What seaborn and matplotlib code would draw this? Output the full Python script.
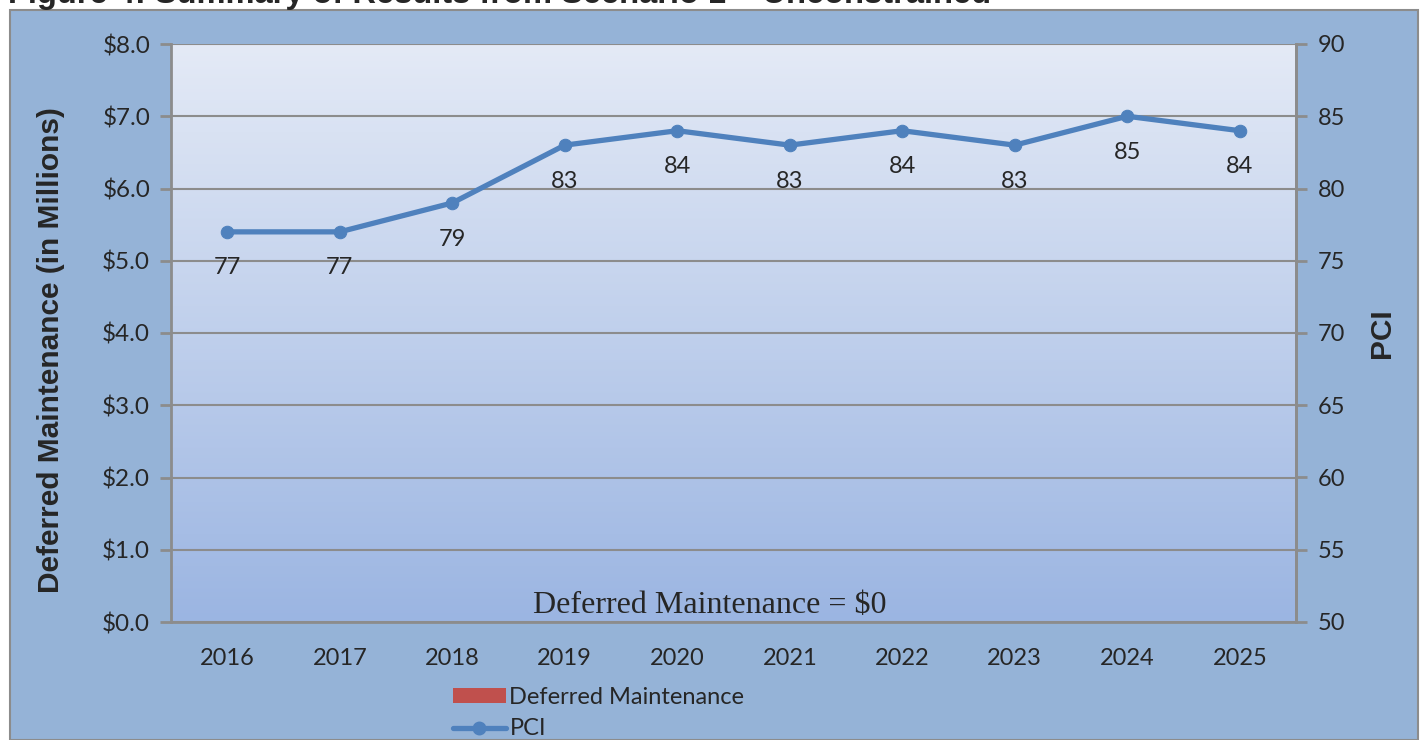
import numpy as np
import pandas as pd
import matplotlib
matplotlib.use("Agg")
import matplotlib.pyplot as plt
import seaborn as sns
from matplotlib.patches import Patch, Rectangle
from matplotlib.lines import Line2D
from matplotlib.colors import LinearSegmentedColormap

# Data
years = ["2016", "2017", "2018", "2019", "2020", "2021", "2022", "2023", "2024", "2025"]
deferred_maintenance = [0, 0, 0, 0, 0, 0, 0, 0, 0, 0]   # $ millions
pci = [77, 77, 79, 83, 84, 83, 84, 83, 85, 84]
left_ticks = [0, 1, 2, 3, 4, 5, 6, 7, 8]
right_ticks = [50, 55, 60, 65, 70, 75, 80, 85, 90]

df = pd.DataFrame({"year": years, "dm": deferred_maintenance, "pci": pci})
df["pos"] = np.arange(len(years))

sns.set_theme(style="white")
TICK_FONT = "Lato"
plt.rcParams["font.family"] = ["Lato", "DejaVu Sans"]

W, H = 1423, 740
fig = plt.figure(figsize=(W / 100, H / 100), dpi=100)
fig.patch.set_facecolor("white")

# Outer chart panel
panel = Rectangle((10 / W, 0), 1408 / W, (H - 10) / H, transform=fig.transFigure,
                  facecolor="#95B3D7", edgecolor="#8C8C8C", linewidth=1.5, zorder=0)
fig.patches.append(panel)

# Caption (partly above the page edge)
fig.text(8 / W, 1 - 3 / H, "Figure 4: Summary of Results from Scenario 1 \u2013 Unconstrained",
         family="Liberation Sans", weight="bold", fontsize=23.5, va="baseline", ha="left")

ax = fig.add_axes([171 / W, 1 - 622 / H, (1296 - 171) / W, (622 - 44) / H])
ax.set_zorder(1)

# Gradient plot background
grad = LinearSegmentedColormap.from_list("bg", ["#E4EAF6", "#9BB5E2"])
ax.imshow(np.linspace(0, 1, 256).reshape(-1, 1), cmap=grad, aspect="auto",
          extent=(-0.5, 9.5, 0, 8), origin="upper", zorder=0)

# Deferred maintenance bars (all zero)
sns.barplot(data=df, x="pos", y="dm", color="#C0504D", ax=ax, width=0.6,
            native_scale=True, zorder=2)

ax.set_xlim(-0.5, 9.5)
ax.set_ylim(0, 8)
ax.set_yticks(left_ticks)
ax.set_yticklabels([f"${v:.1f}" for v in left_ticks], fontsize=17.5, family=TICK_FONT)
ax.set_xticks(df["pos"])
ax.set_xticklabels(years, fontsize=17, family=TICK_FONT)
ax.set_xticks(np.arange(-0.5, 10, 1), minor=True)
ax.tick_params(axis="x", which="major", length=0, pad=19)
ax.tick_params(axis="x", which="minor", length=8, width=2, color="#8C8C8C", direction="out")
ax.tick_params(axis="y", length=8, width=2, color="#8C8C8C", direction="out", pad=7)
ax.set_xlabel("")
ax.set_ylabel("Deferred Maintenance (in Millions)", family="Liberation Sans",
              weight="bold", fontsize=21.5)
ax.yaxis.set_label_coords(-106 / 1125, 0.5 - 17 / 578)
ax.grid(axis="y", color="#8C8C8C", linewidth=1.5, zorder=1)
ax.set_axisbelow(False)
ax.spines["top"].set_visible(False)
for side in ["left", "bottom", "right"]:
    ax.spines[side].set_color("#8C8C8C")
    ax.spines[side].set_linewidth(2)

ax.text(4.29, 0.12, "Deferred Maintenance = $0", family="Liberation Serif",
        fontsize=23, ha="center", va="baseline", zorder=5)

# PCI line on secondary axis
ax2 = ax.twinx()
sns.lineplot(data=df, x="pos", y="pci", ax=ax2, color="#4F81BD", linewidth=3.8,
             marker="o", markersize=9, markeredgecolor="#4F81BD", zorder=4)
ax2.set_ylim(50, 90)
ax2.set_xlim(-0.5, 9.5)
ax2.set_yticks(right_ticks)
ax2.set_yticklabels([str(v) for v in right_ticks], fontsize=17, family=TICK_FONT)
ax2.tick_params(axis="y", length=8, width=2, color="#8C8C8C", direction="out", pad=7.5)
ax2.set_ylabel("PCI", family="Liberation Sans", weight="bold", fontsize=21.5)
ax2.yaxis.set_label_coords(1 + 72 / 1125, 0.5)
ax2.set_xlabel("")
ax2.grid(False)
for side in ["top", "left", "bottom"]:
    ax2.spines[side].set_visible(False)
ax2.spines["right"].set_color("#8C8C8C")
ax2.spines["right"].set_linewidth(2)

for x, v in zip(df["pos"], pci):
    ax2.annotate(str(v), (x, v), xytext=(0, -26), textcoords="offset points",
                 ha="center", va="center", fontsize=17, family=TICK_FONT, zorder=5)

# Legend
handles = [Patch(facecolor="#C0504D", edgecolor="none"),
           Line2D([0], [0], color="#4F81BD", linewidth=3.8, marker="o", markersize=9)]
fig.legend(handles, ["Deferred Maintenance", "PCI"], loc="upper left",
           bbox_to_anchor=(441 / W, 1 - 675 / H), frameon=False,
           prop={"family": TICK_FONT, "size": 17}, handlelength=2.25, handleheight=0.6,
           handletextpad=0.15, labelspacing=0.45, borderpad=0)

fig.savefig("out.png", dpi=100)
